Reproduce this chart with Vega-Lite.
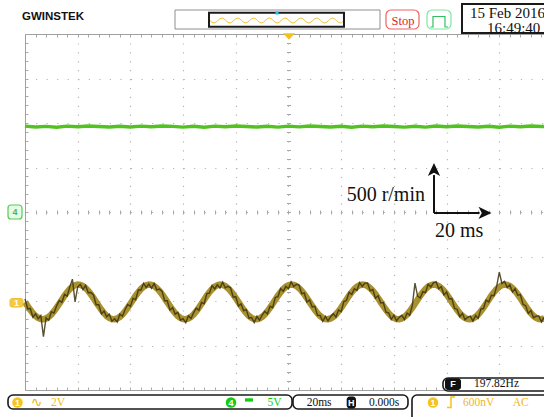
{
"$schema":"https://vega.github.io/schema/vega-lite/v6.json",
"width":519,"height":356,
"autosize":{"type":"none"},
"padding":{"left":25,"top":34,"right":0,"bottom":27},
"background":"white",
"config":{"view":{"stroke":null},"axis":{"labels":false,"domain":false,"ticks":false,"grid":false},"text":{"font":"Liberation Serif"}},
"resolve":{"axis":{"x":"independent","y":"independent"}},
"encoding":{
 "x":{"field":"x","type":"quantitative","scale":{"domain":[-100,96.97],"nice":false,"zero":false},"axis":null},
 "y":{"field":"y","type":"quantitative","scale":{"domain":[-4,4],"nice":false,"zero":false},"axis":null}
},
"datasets":{
"ch4":[{"x":-100,"y":1.931},{"x":-96,"y":1.909},{"x":-92,"y":1.925},{"x":-88,"y":1.905},{"x":-84,"y":1.929},{"x":-80,"y":1.917},{"x":-76,"y":1.933},{"x":-72,"y":1.921},{"x":-68,"y":1.909},{"x":-64,"y":1.927},{"x":-60,"y":1.911},{"x":-56,"y":1.929},{"x":-52,"y":1.915},{"x":-48,"y":1.932},{"x":-44,"y":1.924},{"x":-40,"y":1.908},{"x":-36,"y":1.926},{"x":-32,"y":1.906},{"x":-28,"y":1.930},{"x":-24,"y":1.916},{"x":-20,"y":1.934},{"x":-16,"y":1.922},{"x":-12,"y":1.910},{"x":-8,"y":1.926},{"x":-4,"y":1.908},{"x":0,"y":1.930},{"x":4,"y":1.914},{"x":8,"y":1.932},{"x":12,"y":1.923},{"x":16,"y":1.909},{"x":20,"y":1.927},{"x":24,"y":1.905},{"x":28,"y":1.929},{"x":32,"y":1.917},{"x":36,"y":1.933},{"x":40,"y":1.922},{"x":44,"y":1.908},{"x":48,"y":1.926},{"x":52,"y":1.907},{"x":56,"y":1.931},{"x":60,"y":1.915},{"x":64,"y":1.932},{"x":68,"y":1.923},{"x":72,"y":1.909},{"x":76,"y":1.927},{"x":80,"y":1.906},{"x":84,"y":1.930},{"x":88,"y":1.916},{"x":92,"y":1.933},{"x":96,"y":1.922},{"x":97,"y":1.921}],
"ch1":[
{"x":-100,"y":-2.025,"n":-1.955},{"x":-99,"y":-2.114,"n":-2.174},{"x":-98,"y":-2.199,"n":-2.169},{"x":-97,"y":-2.274,"n":-2.364},{"x":-96,"y":-2.336,"n":-2.286},{"x":-95,"y":-2.380,"n":-2.400},{"x":-94,"y":-2.405,"n":-2.325},{"x":-93,"y":-2.409,"n":-2.800},{"x":-92,"y":-2.392,"n":-2.382},{"x":-91,"y":-2.355,"n":-2.435},{"x":-90,"y":-2.301,"n":-2.241},{"x":-89,"y":-2.231,"n":-2.271},{"x":-88,"y":-2.149,"n":-2.109},{"x":-87,"y":-2.061,"n":-1.991},{"x":-86,"y":-1.970,"n":-2.030},{"x":-85,"y":-1.882,"n":-1.852},{"x":-84,"y":-1.802,"n":-1.892},{"x":-83,"y":-1.733,"n":-1.683},{"x":-82,"y":-1.680,"n":-1.510},{"x":-81,"y":-1.645,"n":-2.020},{"x":-80,"y":-1.630,"n":-1.680},{"x":-79,"y":-1.637,"n":-1.627},{"x":-78,"y":-1.664,"n":-1.744},{"x":-77,"y":-1.710,"n":-1.650},{"x":-76,"y":-1.773,"n":-1.813},{"x":-75,"y":-1.849,"n":-1.809},{"x":-74,"y":-1.934,"n":-1.864},{"x":-73,"y":-2.025,"n":-2.085},{"x":-72,"y":-2.114,"n":-2.084},{"x":-71,"y":-2.199,"n":-2.289},{"x":-70,"y":-2.274,"n":-2.224},{"x":-69,"y":-2.336,"n":-2.356},{"x":-68,"y":-2.380,"n":-2.300},{"x":-67,"y":-2.405,"n":-2.455},{"x":-66,"y":-2.409,"n":-2.399},{"x":-65,"y":-2.392,"n":-2.472},{"x":-64,"y":-2.355,"n":-2.295},{"x":-63,"y":-2.301,"n":-2.341},{"x":-62,"y":-2.231,"n":-2.191},{"x":-61,"y":-2.149,"n":-2.079},{"x":-60,"y":-2.061,"n":-2.121},{"x":-59,"y":-1.970,"n":-1.940},{"x":-58,"y":-1.882,"n":-1.972},{"x":-57,"y":-1.802,"n":-1.752},{"x":-56,"y":-1.733,"n":-1.753},{"x":-55,"y":-1.680,"n":-1.600},{"x":-54,"y":-1.645,"n":-1.695},{"x":-53,"y":-1.630,"n":-1.620},{"x":-52,"y":-1.637,"n":-1.717},{"x":-51,"y":-1.664,"n":-1.604},{"x":-50,"y":-1.710,"n":-1.750},{"x":-49,"y":-1.773,"n":-1.733},{"x":-48,"y":-1.849,"n":-1.779},{"x":-47,"y":-1.934,"n":-1.994},{"x":-46,"y":-2.025,"n":-1.995},{"x":-45,"y":-2.114,"n":-2.204},{"x":-44,"y":-2.199,"n":-2.149},{"x":-43,"y":-2.274,"n":-2.294},{"x":-42,"y":-2.336,"n":-2.256},{"x":-41,"y":-2.380,"n":-2.430},{"x":-40,"y":-2.405,"n":-2.395},{"x":-39,"y":-2.409,"n":-2.489},{"x":-38,"y":-2.392,"n":-2.332},{"x":-37,"y":-2.355,"n":-2.395},{"x":-36,"y":-2.301,"n":-2.261},{"x":-35,"y":-2.231,"n":-2.161},{"x":-34,"y":-2.149,"n":-2.209},{"x":-33,"y":-2.061,"n":-2.031},{"x":-32,"y":-1.970,"n":-2.060},{"x":-31,"y":-1.882,"n":-1.832},{"x":-30,"y":-1.802,"n":-1.822},{"x":-29,"y":-1.733,"n":-1.653},{"x":-28,"y":-1.680,"n":-1.730},{"x":-27,"y":-1.645,"n":-1.635},{"x":-26,"y":-1.630,"n":-1.710},{"x":-25,"y":-1.637,"n":-1.577},{"x":-24,"y":-1.664,"n":-1.704},{"x":-23,"y":-1.710,"n":-1.670},{"x":-22,"y":-1.773,"n":-1.703},{"x":-21,"y":-1.849,"n":-1.909},{"x":-20,"y":-1.934,"n":-1.904},{"x":-19,"y":-2.025,"n":-2.115},{"x":-18,"y":-2.114,"n":-2.064},{"x":-17,"y":-2.199,"n":-2.219},{"x":-16,"y":-2.274,"n":-2.194},{"x":-15,"y":-2.336,"n":-2.386},{"x":-14,"y":-2.380,"n":-2.370},{"x":-13,"y":-2.405,"n":-2.485},{"x":-12,"y":-2.409,"n":-2.349},{"x":-11,"y":-2.392,"n":-2.432},{"x":-10,"y":-2.355,"n":-2.315},{"x":-9,"y":-2.301,"n":-2.231},{"x":-8,"y":-2.231,"n":-2.291},{"x":-7,"y":-2.149,"n":-2.119},{"x":-6,"y":-2.061,"n":-2.151},{"x":-5,"y":-1.970,"n":-1.920},{"x":-4,"y":-1.882,"n":-1.902},{"x":-3,"y":-1.802,"n":-1.722},{"x":-2,"y":-1.733,"n":-1.783},{"x":-1,"y":-1.680,"n":-1.670},{"x":0,"y":-1.645,"n":-1.725},{"x":1,"y":-1.630,"n":-1.570},{"x":2,"y":-1.637,"n":-1.677},{"x":3,"y":-1.664,"n":-1.624},{"x":4,"y":-1.710,"n":-1.640},{"x":5,"y":-1.773,"n":-1.833},{"x":6,"y":-1.849,"n":-1.819},{"x":7,"y":-1.934,"n":-2.024},{"x":8,"y":-2.025,"n":-1.975},{"x":9,"y":-2.114,"n":-2.134},{"x":10,"y":-2.199,"n":-2.119},{"x":11,"y":-2.274,"n":-2.324},{"x":12,"y":-2.336,"n":-2.326},{"x":13,"y":-2.380,"n":-2.460},{"x":14,"y":-2.405,"n":-2.345},{"x":15,"y":-2.409,"n":-2.449},{"x":16,"y":-2.392,"n":-2.352},{"x":17,"y":-2.355,"n":-2.285},{"x":18,"y":-2.301,"n":-2.361},{"x":19,"y":-2.231,"n":-2.201},{"x":20,"y":-2.149,"n":-2.239},{"x":21,"y":-2.061,"n":-2.011},{"x":22,"y":-1.970,"n":-1.990},{"x":23,"y":-1.882,"n":-1.802},{"x":24,"y":-1.802,"n":-1.852},{"x":25,"y":-1.733,"n":-1.723},{"x":26,"y":-1.680,"n":-1.760},{"x":27,"y":-1.645,"n":-1.585},{"x":28,"y":-1.630,"n":-1.670},{"x":29,"y":-1.637,"n":-1.597},{"x":30,"y":-1.664,"n":-1.594},{"x":31,"y":-1.710,"n":-1.770},{"x":32,"y":-1.773,"n":-1.743},{"x":33,"y":-1.849,"n":-1.939},{"x":34,"y":-1.934,"n":-1.884},{"x":35,"y":-2.025,"n":-2.045},{"x":36,"y":-2.114,"n":-2.034},{"x":37,"y":-2.199,"n":-2.249},{"x":38,"y":-2.274,"n":-2.264},{"x":39,"y":-2.336,"n":-2.416},{"x":40,"y":-2.380,"n":-2.320},{"x":41,"y":-2.405,"n":-2.445},{"x":42,"y":-2.409,"n":-2.369},{"x":43,"y":-2.392,"n":-2.322},{"x":44,"y":-2.355,"n":-2.415},{"x":45,"y":-2.301,"n":-2.271},{"x":46,"y":-2.231,"n":-2.321},{"x":47,"y":-2.149,"n":-2.099},{"x":48,"y":-2.061,"n":-1.600},{"x":49,"y":-1.970,"n":-1.890},{"x":50,"y":-1.882,"n":-1.932},{"x":51,"y":-1.802,"n":-1.792},{"x":52,"y":-1.733,"n":-1.813},{"x":53,"y":-1.680,"n":-1.620},{"x":54,"y":-1.645,"n":-1.685},{"x":55,"y":-1.630,"n":-1.590},{"x":56,"y":-1.637,"n":-1.567},{"x":57,"y":-1.664,"n":-1.724},{"x":58,"y":-1.710,"n":-1.680},{"x":59,"y":-1.773,"n":-1.863},{"x":60,"y":-1.849,"n":-1.799},{"x":61,"y":-1.934,"n":-1.954},{"x":62,"y":-2.025,"n":-1.945},{"x":63,"y":-2.114,"n":-2.164},{"x":64,"y":-2.199,"n":-2.189},{"x":65,"y":-2.274,"n":-2.354},{"x":66,"y":-2.336,"n":-2.276},{"x":67,"y":-2.380,"n":-2.420},{"x":68,"y":-2.405,"n":-2.365},{"x":69,"y":-2.409,"n":-2.339},{"x":70,"y":-2.392,"n":-2.452},{"x":71,"y":-2.355,"n":-2.325},{"x":72,"y":-2.301,"n":-2.391},{"x":73,"y":-2.231,"n":-2.181},{"x":74,"y":-2.149,"n":-2.169},{"x":75,"y":-2.061,"n":-1.981},{"x":76,"y":-1.970,"n":-2.020},{"x":77,"y":-1.882,"n":-1.872},{"x":78,"y":-1.802,"n":-1.882},{"x":79,"y":-1.733,"n":-1.673},{"x":80,"y":-1.680,"n":-1.350},{"x":81,"y":-1.645,"n":-1.605},{"x":82,"y":-1.630,"n":-1.560},{"x":83,"y":-1.637,"n":-1.697},{"x":84,"y":-1.664,"n":-1.634},{"x":85,"y":-1.710,"n":-1.800},{"x":86,"y":-1.773,"n":-1.723},{"x":87,"y":-1.849,"n":-1.869},{"x":88,"y":-1.934,"n":-1.854},{"x":89,"y":-2.025,"n":-2.075},{"x":90,"y":-2.114,"n":-2.104},{"x":91,"y":-2.199,"n":-2.279},{"x":92,"y":-2.274,"n":-2.214},{"x":93,"y":-2.336,"n":-2.376},{"x":94,"y":-2.380,"n":-2.340},{"x":95,"y":-2.405,"n":-2.335},{"x":96,"y":-2.409,"n":-2.469},{"x":97,"y":-2.392,"n":-2.362}],
"arrows":[{"x":55.22,"y":-0.022,"x2":55.22,"y2":0.83},{"x":55.22,"y":-0.022,"x2":72.5,"y2":-0.022}],
"headUp":[{"x":55.22,"y":0.939}],
"headRight":[{"x":74.31,"y":-0.022}],
"annLeft":[{"label":"500 r/min","x":51.8,"y":0.382}],
"annRight":[{"label":"20 ms","x":55.6,"y":-0.427}],
"trig":[{"x":0.19,"y":3.944}],
"previewOuter":[{"x":-43.07,"x2":34.73,"y":4.539,"y2":4.112}],
"framesBlack":[{"x":-30.17,"x2":21.06,"y":4.479,"y2":4.164},{"x":65.85,"x2":103.04,"y":4.674,"y2":4.022}],
"mini":[{"x":-29.79,"y":4.303},{"x":-28.27,"y":4.247},{"x":-25.28,"y":4.36},{"x":-22.28,"y":4.247},{"x":-19.28,"y":4.36},{"x":-16.28,"y":4.247},{"x":-13.28,"y":4.36},{"x":-10.28,"y":4.247},{"x":-7.29,"y":4.36},{"x":-4.29,"y":4.247},{"x":-1.29,"y":4.36},{"x":1.71,"y":4.247},{"x":4.71,"y":4.36},{"x":7.7,"y":4.247},{"x":10.7,"y":4.36},{"x":13.7,"y":4.247},{"x":16.7,"y":4.36},{"x":19.7,"y":4.247},{"x":20.68,"y":4.28}],
"cyan":[{"x":-4.36,"y":4.472}],
"stopBox":[{"x":37.0,"x2":49.53,"y":4.539,"y2":4.112}],
"runBox":[{"x":52.56,"x2":61.67,"y":4.539,"y2":4.112}],
"pulse":[{"x":53.89,"y":4.157,"o":1},{"x":54.84,"y":4.157,"o":2},{"x":54.84,"y":4.393,"o":3},{"x":59.39,"y":4.393,"o":4},{"x":59.39,"y":4.157,"o":5},{"x":60.53,"y":4.157,"o":6}],
"bars":[{"x":58.63,"x2":103.04,"y":-3.73,"y2":-4.022},{"x":-106.45,"x2":1.33,"y":-4.112,"y2":-4.427},{"x":1.71,"x2":45.35,"y":-4.112,"y2":-4.427},{"x":46.87,"x2":103.04,"y":-4.112,"y2":-4.8}],
"icons":[{"x":59.39,"x2":65.47,"y":-3.737,"y2":-4.0},{"x":22.09,"x2":25.62,"y":-4.146,"y2":-4.416}],
"ch1dots":[{"x":-102.85,"y":-4.281},{"x":54.84,"y":-4.281}],
"ch4dots":[{"x":-21.82,"y":-4.281}],
"ch1marker":[{"x":-105.69,"x2":-100.76,"y":-1.944,"y2":-2.135}],
"ch4marker":[{"x":-106.45,"x2":-101.14,"y":0.157,"y2":-0.157}],
"dcsym":[{"x":-16.51,"x2":-13.47,"y":-4.186,"y2":-4.261}],
"edge":[{"x":60.15,"y":-4.393,"o":1},{"x":61.67,"y":-4.393,"o":2},{"x":61.67,"y":-4.157,"o":3},{"x":63.19,"y":-4.157,"o":4}],
"logo":[{"label":"GWINSTEK","x":-101.14,"y":4.389}],
"stopText":[{"label":"Stop","x":43.45,"y":4.299}],
"dateText":[{"label":"15 Feb 2016","x":68.88,"y":4.472},{"label":"16:49:40","x":75.33,"y":4.135}],
"blackText":[{"label":"197.82Hz","x":70.4,"y":-3.876},{"label":"20ms","x":6.89,"y":-4.281},{"label":"0.000s","x":30.55,"y":-4.281}],
"yellowText":[{"label":"2V","x":-90.13,"y":-4.281},{"label":"600nV","x":66.23,"y":-4.281},{"label":"AC","x":85.07,"y":-4.281}],
"greenText":[{"label":"5V","x":-7.97,"y":-4.281}],
"sineSym":[{"label":"∿","x":-95.58,"y":-4.281}],
"whiteText":[{"label":"1","x":-102.85,"y":-4.281},{"label":"4","x":-21.82,"y":-4.281},{"label":"1","x":54.84,"y":-4.281},{"label":"H","x":23.86,"y":-4.281},{"label":"F","x":62.43,"y":-3.868},{"label":"1","x":-103.23,"y":-2.04}],
"greenSmall":[{"label":"4","x":-103.8,"y":0}]
},
"layer":[
{"data":{"name":"ch4"},"mark":{"type":"line","color":"#52c221","strokeWidth":3.4},
 "encoding":{
  "x":{"field":"x","type":"quantitative","scale":{"domain":[-100,96.97],"nice":false,"zero":false},"axis":{"orient":"bottom","title":null,"values":[-80,-60,-40,-20,0,20,40,60,80],"grid":true,"gridColor":"#b5b5b5","gridDash":[1.2,7.7],"gridWidth":1.2,"domain":true,"domainColor":"#a0a0a0","ticks":false,"labels":false}},
  "y":{"field":"y","type":"quantitative","scale":{"domain":[-4,4],"nice":false,"zero":false},"axis":{"orient":"left","title":null,"values":[-3,-2,-1,0,1,2,3],"grid":true,"gridColor":"#b5b5b5","gridDash":[1.2,9.34],"gridWidth":1.2,"domain":true,"domainColor":"#a0a0a0","ticks":false,"labels":false}}}},
{"data":{"name":"ch1"},"mark":{"type":"line","color":"#a8912e","strokeWidth":6.5},
 "encoding":{
  "x":{"field":"x","type":"quantitative","scale":{"domain":[-100,96.97],"nice":false,"zero":false},"axis":{"orient":"bottom","title":null,"offset":-3,"values":[-100,-96,-92,-88,-84,-80,-76,-72,-68,-64,-60,-56,-52,-48,-44,-40,-36,-32,-28,-24,-20,-16,-12,-8,-4,0,4,8,12,16,20,24,28,32,36,40,44,48,52,56,60,64,68,72,76,80,84,88,92,96],"ticks":true,"tickSize":3,"tickColor":"#a8a8a8","labels":false,"domain":false,"grid":false}},
  "y":{"field":"y","type":"quantitative","scale":{"domain":[-4,4],"nice":false,"zero":false},"axis":{"orient":"left","title":null,"offset":-3,"values":[-4,-3.8,-3.6,-3.4,-3.2,-3,-2.8,-2.6,-2.4,-2.2,-2,-1.8,-1.6,-1.4,-1.2,-1,-0.8,-0.6,-0.4,-0.2,0,0.2,0.4,0.6,0.8,1,1.2,1.4,1.6,1.8,2,2.2,2.4,2.6,2.8,3,3.2,3.4,3.6,3.8,4],"ticks":true,"tickSize":3,"tickColor":"#a8a8a8","labels":false,"domain":false,"grid":false}}}},
{"data":{"name":"ch1"},"mark":{"type":"line","color":"#3a3110","strokeWidth":1.4,"opacity":0.85},
 "encoding":{
  "x":{"field":"x","type":"quantitative","scale":{"domain":[-100,96.97],"nice":false,"zero":false},"axis":{"orient":"top","title":null,"offset":-3,"values":[-100,-96,-92,-88,-84,-80,-76,-72,-68,-64,-60,-56,-52,-48,-44,-40,-36,-32,-28,-24,-20,-16,-12,-8,-4,0,4,8,12,16,20,24,28,32,36,40,44,48,52,56,60,64,68,72,76,80,84,88,92,96],"ticks":true,"tickSize":3,"tickColor":"#a8a8a8","labels":false,"domain":false,"grid":false}},
  "y":{"field":"n","type":"quantitative","scale":{"domain":[-4,4],"nice":false,"zero":false},"axis":{"orient":"left","title":null,"offset":-265.5,"values":[-4,-3.8,-3.6,-3.4,-3.2,-3,-2.8,-2.6,-2.4,-2.2,-2,-1.8,-1.6,-1.4,-1.2,-1,-0.8,-0.6,-0.4,-0.2,0,0.2,0.4,0.6,0.8,1,1.2,1.4,1.6,1.8,2,2.2,2.4,2.6,2.8,3,3.2,3.4,3.6,3.8,4],"ticks":true,"tickSize":4,"tickColor":"#a8a8a8","labels":false,"domain":false,"grid":false}}}},
{"data":{"name":"arrows"},"mark":{"type":"rule","color":"#111111","strokeWidth":2},
 "encoding":{
  "x":{"field":"x","type":"quantitative","scale":{"domain":[-100,96.97],"nice":false,"zero":false},"axis":{"orient":"bottom","title":null,"offset":-180,"values":[-100,-96,-92,-88,-84,-80,-76,-72,-68,-64,-60,-56,-52,-48,-44,-40,-36,-32,-28,-24,-20,-16,-12,-8,-4,0,4,8,12,16,20,24,28,32,36,40,44,48,52,56,60,64,68,72,76,80,84,88,92,96],"ticks":true,"tickSize":4,"tickColor":"#a8a8a8","labels":false,"domain":false,"grid":false}},
  "x2":{"field":"x2"},"y2":{"field":"y2"}}},
{"data":{"name":"headUp"},"mark":{"type":"point","shape":"M0,-1L0.85,0.8L0,0.35L-0.85,0.8Z","filled":true,"color":"#111111","size":208,"opacity":1}},
{"data":{"name":"headRight"},"mark":{"type":"point","shape":"M1,0L-0.8,0.85L-0.35,0L-0.8,-0.85Z","filled":true,"color":"#111111","size":208,"opacity":1}},
{"data":{"name":"annLeft"},"mark":{"type":"text","align":"right","baseline":"middle","fontSize":20,"color":"#111111","font":"Liberation Serif"},"encoding":{"text":{"field":"label"}}},
{"data":{"name":"annRight"},"mark":{"type":"text","align":"left","baseline":"middle","fontSize":20,"color":"#111111","font":"Liberation Serif"},"encoding":{"text":{"field":"label"}}},
{"data":{"name":"trig"},"mark":{"type":"point","shape":"M-1,-0.55L1,-0.55L0,0.55Z","filled":true,"color":"#f2c21a","size":144,"opacity":1}},
{"data":{"name":"previewOuter"},"mark":{"type":"rect","fill":"white","stroke":"#8f8f8f","strokeWidth":1},
 "encoding":{"x":{"field":"x","type":"quantitative","scale":{"domain":[-100,96.97],"nice":false,"zero":false},"axis":{"orient":"top","title":null,"domain":true,"domainColor":"#a0a0a0","ticks":false,"labels":false,"grid":false}},"x2":{"field":"x2"},"y2":{"field":"y2"}}},
{"data":{"name":"framesBlack"},"mark":{"type":"rect","fill":"white","fillOpacity":0,"stroke":"#1a1a1a","strokeWidth":2},"encoding":{"x2":{"field":"x2"},"y2":{"field":"y2"}}},
{"data":{"name":"mini"},"mark":{"type":"line","color":"#f2c230","strokeWidth":1,"interpolate":"monotone"}},
{"data":{"name":"cyan"},"mark":{"type":"square","filled":true,"color":"#1fc8e8","size":10,"opacity":1}},
{"data":{"name":"stopBox"},"mark":{"type":"rect","fill":"white","stroke":"#f06060","strokeWidth":1.2,"cornerRadius":5},"encoding":{"x2":{"field":"x2"},"y2":{"field":"y2"}}},
{"data":{"name":"runBox"},"mark":{"type":"rect","fill":"white","stroke":"#7ee8a0","strokeWidth":1.2,"cornerRadius":5},"encoding":{"x2":{"field":"x2"},"y2":{"field":"y2"}}},
{"data":{"name":"pulse"},"mark":{"type":"line","color":"#30c060","strokeWidth":1.2},"encoding":{"order":{"field":"o","type":"quantitative"}}},
{"data":{"name":"bars"},"mark":{"type":"rect","fill":"white","stroke":"#1a1a1a","strokeWidth":1.6,"cornerRadius":5},"encoding":{"x2":{"field":"x2"},"y2":{"field":"y2"}}},
{"data":{"name":"icons"},"mark":{"type":"rect","fill":"#111111","cornerRadius":3},"encoding":{"x2":{"field":"x2"},"y2":{"field":"y2"}}},
{"data":{"name":"ch1dots"},"mark":{"type":"circle","color":"#f5c21f","size":110,"opacity":1}},
{"data":{"name":"ch4dots"},"mark":{"type":"circle","color":"#14cc14","size":110,"opacity":1}},
{"data":{"name":"ch1marker"},"mark":{"type":"rect","fill":"#f5c842","stroke":"#f0c030","cornerRadius":2},"encoding":{"x2":{"field":"x2"},"y2":{"field":"y2"}}},
{"data":{"name":"ch4marker"},"mark":{"type":"rect","fill":"#e8fbe8","stroke":"#55cc55","strokeWidth":1.2,"cornerRadius":3},"encoding":{"x2":{"field":"x2"},"y2":{"field":"y2"}}},
{"data":{"name":"dcsym"},"mark":{"type":"rect","fill":"#14cc14"},"encoding":{"x2":{"field":"x2"},"y2":{"field":"y2"}}},
{"data":{"name":"edge"},"mark":{"type":"line","color":"#f5c21f","strokeWidth":1.5},"encoding":{"order":{"field":"o","type":"quantitative"}}},
{"data":{"name":"logo"},"mark":{"type":"text","align":"left","baseline":"middle","fontSize":11.5,"fontWeight":"bold","font":"Liberation Sans","color":"#111111"},"encoding":{"text":{"field":"label"}}},
{"data":{"name":"stopText"},"mark":{"type":"text","align":"center","baseline":"middle","fontSize":12.5,"font":"Liberation Serif","color":"#e02424"},"encoding":{"text":{"field":"label"}}},
{"data":{"name":"dateText"},"mark":{"type":"text","align":"left","baseline":"middle","fontSize":15,"font":"Liberation Serif","color":"#111111"},"encoding":{"text":{"field":"label"}}},
{"data":{"name":"blackText"},"mark":{"type":"text","align":"left","baseline":"middle","fontSize":11.5,"font":"Liberation Serif","color":"#111111"},"encoding":{"text":{"field":"label"}}},
{"data":{"name":"yellowText"},"mark":{"type":"text","align":"left","baseline":"middle","fontSize":11.5,"font":"Liberation Serif","color":"#f0b818"},"encoding":{"text":{"field":"label"}}},
{"data":{"name":"greenText"},"mark":{"type":"text","align":"left","baseline":"middle","fontSize":11.5,"font":"Liberation Serif","color":"#14cc14"},"encoding":{"text":{"field":"label"}}},
{"data":{"name":"sineSym"},"mark":{"type":"text","align":"center","baseline":"middle","fontSize":14,"font":"DejaVu Sans","color":"#f0b818"},"encoding":{"text":{"field":"label"}}},
{"data":{"name":"whiteText"},"mark":{"type":"text","align":"center","baseline":"middle","fontSize":9,"fontWeight":"bold","font":"Liberation Sans","color":"white"},"encoding":{"text":{"field":"label"}}},
{"data":{"name":"greenSmall"},"mark":{"type":"text","align":"center","baseline":"middle","fontSize":9,"fontWeight":"bold","font":"Liberation Sans","color":"#44bb44"},"encoding":{"text":{"field":"label"}}}
]
}
